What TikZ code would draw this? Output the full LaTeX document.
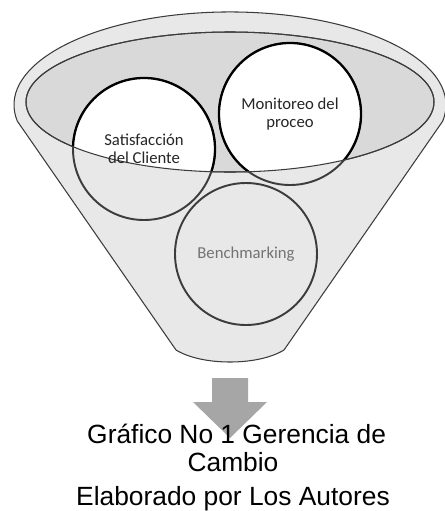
\documentclass[tikz,border=0pt]{standalone}
\usepackage{fontspec}
\setmainfont{Liberation Sans}
\newfontfamily\carlito{Carlito}
\usetikzlibrary{backgrounds}
\usetikzlibrary{positioning}
\definecolor{funnelgray}{HTML}{E8E8E8}
\definecolor{rimgray}{HTML}{D9D9D9}
\definecolor{arrowgray}{HTML}{A6A6A6}
\definecolor{linegray}{HTML}{3C3C3C}

\begin{document}
\begin{tikzpicture}[x=0.02cm,y=-0.02cm]
\tikzset{bubble/.style={circle,minimum size=2.84cm,inner sep=0pt,align=center,font=\carlito\fontsize{9.5}{10.5}\selectfont,text=black!85},
  bubbleback/.style={fill=funnelgray,draw=linegray,line width=1.1pt},
  bubblefront/.style={fill=white,draw=black,line width=1.3pt},
  funnel/.style={fill=funnelgray,draw=linegray,line width=0.6pt},
  caption/.style={font=\fontsize{15}{16}\selectfont,align=center}}
\useasboundingbox (0,0) rectangle (445,511);
\node[bubble] (sat) at (144,149) {Satisfacción\\del Cliente};
\node[bubble] (mon) at (290,114) {Monitoreo del\\proceo};
\node[bubble,text=black!55] (ben) at (246,254) {Benchmarking};
\fill[arrowgray] (212,378) -- (248,378) -- (248,402) -- (267,402) -- (230,438) -- (193,402) -- (212,402) -- cycle;
\node[caption] (title) at (233,448) {\ Gráfico No 1 Gerencia de\\Cambio};
\node[caption,below=1pt of title] (autores) {Elaborado por Los Autores};
\begin{scope}[on background layer]
\filldraw[funnel] (17.3,121.1) arc[start angle=170,end angle=370,x radius=216,y radius=93] -- (284,350) .. controls (258,366) and (202,366) .. (176,350) -- cycle;
\filldraw[funnel,fill=rimgray] (230,102) ellipse[x radius=204,y radius=70];
\foreach \b in {sat,mon,ben}
  \filldraw[bubbleback] (\b.center) circle[radius=71];
\begin{scope}
\clip (230,102) ellipse[x radius=204,y radius=70];
\foreach \b in {sat,mon}
  \filldraw[bubblefront] (\b.center) circle[radius=71];
\end{scope}
\draw[funnel,fill=none] (230,102) ellipse[x radius=204,y radius=70];
\end{scope}
\end{tikzpicture}
\end{document}
